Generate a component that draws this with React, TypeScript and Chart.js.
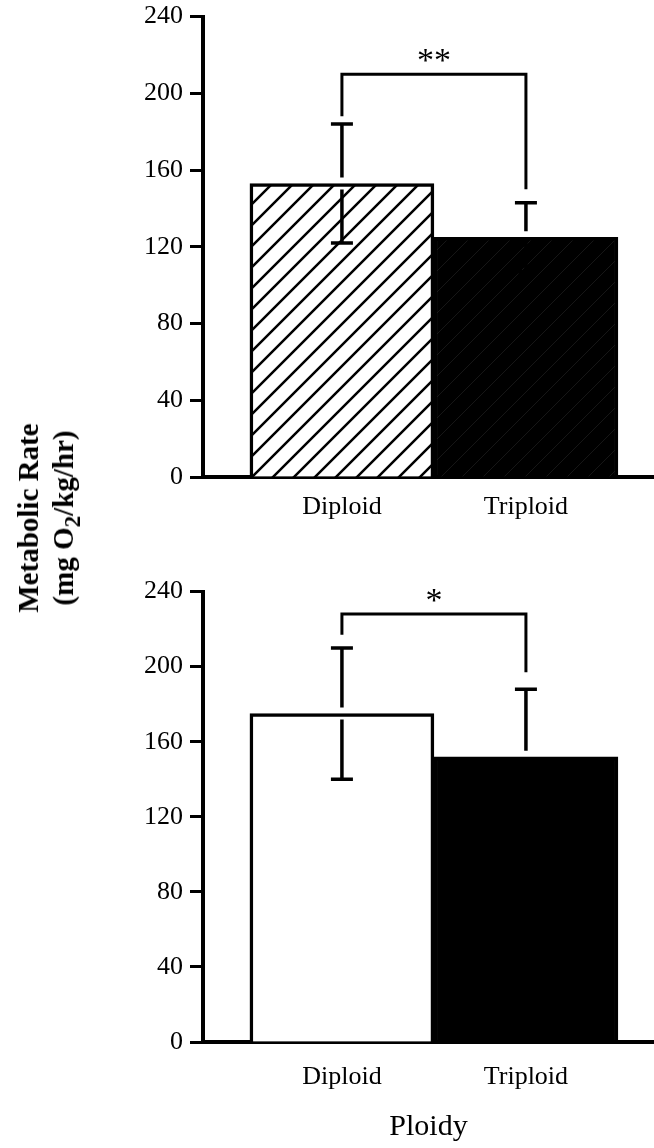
import React, { useEffect, useRef } from 'react';
import { Chart, registerables } from 'chart.js';

Chart.register(...registerables);

// ---- data ----
const categories = ['Diploid', 'Triploid'];
const categoryPositions = [1, 2];
const yTickValues = [0, 40, 80, 120, 160, 200, 240];

const topMeans = [153, 125];
const topErrors = [31, 18];
const topBracket = [188, 210, 150]; // left leg end, bracket level, right leg end
const topStars = '**';

const bottomMeans = [175, 152];
const bottomErrors = [35, 36];
const bottomBracket = [217, 228, 197];
const bottomStars = '*';

const yTitleLine1 = 'Metabolic Rate';
const yTitleLine2a = '(mg O';
const yTitleSub = '2';
const yTitleLine2b = '/kg/hr)';
const xTitle = 'Ploidy';

const FONT = "'Liberation Serif', 'Times New Roman', Times, serif";

function makeHatch(bg: string, fg: string, lw: number, size: number) {
  const c = document.createElement('canvas');
  c.width = size;
  c.height = size;
  const g = c.getContext('2d')!;
  g.fillStyle = bg;
  g.fillRect(0, 0, size, size);
  g.strokeStyle = fg;
  g.lineWidth = lw;
  g.beginPath();
  [0, size, 2 * size].forEach((k) => {
    g.moveTo(-2, k + 2);
    g.lineTo(k + 2, -2);
  });
  g.stroke();
  const ctx = document.createElement('canvas').getContext('2d')!;
  return ctx.createPattern(c, 'repeat')!;
}

const errorBracketPlugin = {
  id: 'errorBracket',
  afterDatasetsDraw(chart: any, _args: any, opts: any) {
    const { ctx } = chart;
    const x = chart.scales.x;
    const y = chart.scales.y;
    const means: number[] = opts.means;
    const errors: number[] = opts.errors;
    const br: number[] = opts.bracket;
    ctx.save();
    ctx.strokeStyle = '#000';
    ctx.lineWidth = 3.5;
    ctx.lineCap = 'butt';
    means.forEach((m, i) => {
      const px = x.getPixelForValue(categoryPositions[i]);
      const top = y.getPixelForValue(m + errors[i]);
      const bot = y.getPixelForValue(m - errors[i]);
      const mid = y.getPixelForValue(m);
      ctx.beginPath();
      ctx.moveTo(px, top);
      ctx.lineTo(px, mid - 6);
      ctx.moveTo(px, mid + 6);
      ctx.lineTo(px, bot);
      ctx.moveTo(px - 11, top);
      ctx.lineTo(px + 11, top);
      ctx.moveTo(px - 11, bot);
      ctx.lineTo(px + 11, bot);
      ctx.stroke();
    });
    const lx = x.getPixelForValue(categoryPositions[0]);
    const rx = x.getPixelForValue(categoryPositions[1]);
    const by = y.getPixelForValue(br[1]);
    ctx.lineWidth = 3;
    ctx.beginPath();
    ctx.moveTo(lx, y.getPixelForValue(br[0]));
    ctx.lineTo(lx, by);
    ctx.lineTo(rx, by);
    ctx.lineTo(rx, y.getPixelForValue(br[2]));
    ctx.stroke();
    ctx.fillStyle = '#000';
    ctx.font = `34px ${FONT}`;
    ctx.textAlign = 'center';
    ctx.textBaseline = 'alphabetic';
    ctx.fillText(opts.stars, (lx + rx) / 2, by - 3);
    ctx.restore();
  },
};

function makeConfig(
  means: number[],
  colors: any[],
  errors: number[],
  bracket: number[],
  stars: string,
  xHeight: number,
  labelPad: number,
  withTitle: boolean
): any {
  return {
    type: 'bar',
    data: {
      datasets: [
        {
          data: means.map((v, i) => ({ x: categoryPositions[i], y: v })),
          backgroundColor: colors,
          borderColor: '#000',
          borderWidth: 3.5,
          borderSkipped: 'start',
          barPercentage: 1,
          categoryPercentage: 1,
        },
      ],
    },
    options: {
      animation: false,
      responsive: false,
      maintainAspectRatio: false,
      layout: { padding: { top: 9, left: 0, right: 0, bottom: 0 } },
      plugins: {
        legend: { display: false },
        tooltip: { enabled: false },
        errorBracket: { means, errors, bracket, stars },
      },
      scales: {
        x: {
          type: 'linear',
          offset: false,
          bounds: 'data',
          min: 0.245,
          max: 2.696,
          afterBuildTicks: (s: any) => {
            s.ticks = categoryPositions.map((v) => ({ value: v }));
          },
          afterFit: (s: any) => {
            s.height = xHeight;
          },
          ticks: {
            callback: (_v: any, i: number) => categories[i],
            font: { family: FONT, size: 26 },
            color: '#000',
            padding: labelPad,
            maxRotation: 0,
            autoSkip: false,
          },
          grid: { display: false, drawTicks: false, offset: false },
          border: { display: true, color: '#000', width: 4 },
          title: {
            display: withTitle,
            text: xTitle,
            font: { family: FONT, size: 30 },
            color: '#000',
            padding: { top: 0, bottom: 3 },
          },
        },
        y: {
          min: 0,
          max: 240,
          afterBuildTicks: (s: any) => {
            s.ticks = yTickValues.map((v) => ({ value: v }));
          },
          afterFit: (s: any) => {
            s.width = 203;
          },
          ticks: {
            font: { family: FONT, size: 26 },
            color: '#000',
            padding: 7,
          },
          grid: {
            display: true,
            drawOnChartArea: false,
            drawTicks: true,
            tickLength: 13,
            tickWidth: 3,
            tickColor: '#000',
          },
          border: { display: true, color: '#000', width: 4 },
        },
      },
    },
    plugins: [errorBracketPlugin],
  };
}

export default function App() {
  const topRef = useRef<HTMLCanvasElement>(null);
  const botRef = useRef<HTMLCanvasElement>(null);

  useEffect(() => {
    const hatchWhite = makeHatch('#ffffff', '#000000', 2.5, 21);
    const hatchBlack = makeHatch('#000000', '#161616', 1, 21);
    const c1 = new Chart(
      topRef.current!,
      makeConfig(topMeans, [hatchWhite, hatchBlack], topErrors, topBracket, topStars, 77, 15, false)
    );
    const c2 = new Chart(
      botRef.current!,
      makeConfig(bottomMeans, ['#ffffff', '#000000'], bottomErrors, bottomBracket, bottomStars, 106, 20, true)
    );
    return () => {
      c1.destroy();
      c2.destroy();
    };
  }, []);

  return (
    <div
      style={{
        position: 'absolute',
        left: 0,
        top: 0,
        width: 654,
        height: 1148,
        background: '#fff',
        overflow: 'hidden',
      }}
    >
      <canvas
        ref={topRef}
        width={654}
        height={560}
        style={{ position: 'absolute', left: 0, top: -6, width: 654, height: 560 }}
      />
      <canvas
        ref={botRef}
        width={654}
        height={579}
        style={{ position: 'absolute', left: 0, top: 569, width: 654, height: 579 }}
      />
      <div
        style={{
          position: 'absolute',
          left: 46,
          top: 518,
          transform: 'translate(-50%, -50%) rotate(-90deg)',
          whiteSpace: 'nowrap',
          textAlign: 'center',
          fontFamily: FONT,
          fontWeight: 'bold',
          fontSize: 29,
          lineHeight: '35px',
          color: '#000',
        }}
      >
        <div>{yTitleLine1}</div>
        <div>
          {yTitleLine2a}
          <sub style={{ fontSize: '0.8em', lineHeight: 0 }}>{yTitleSub}</sub>
          {yTitleLine2b}
        </div>
      </div>
    </div>
  );
}
